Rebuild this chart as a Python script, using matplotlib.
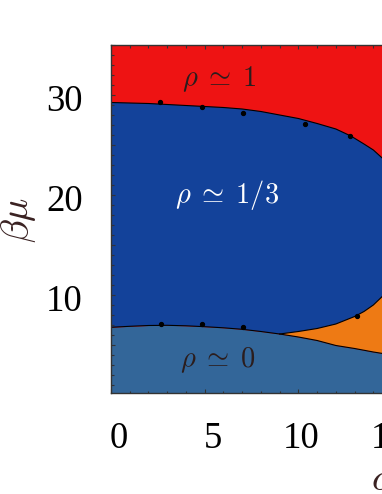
import numpy as np
import matplotlib
matplotlib.use("Agg")
import matplotlib.pyplot as plt
from matplotlib.ticker import MultipleLocator, FuncFormatter
from matplotlib.transforms import ScaledTranslation

plt.rcParams.update({
    'font.family': 'Liberation Serif',
    'mathtext.fontset': 'cm',
})

# boundary rho~1/3 (blue) / rho~1 (red)
upper_alpha = [0, 1, 2, 3, 4, 5, 6, 7, 8, 9, 10, 11, 12, 12.8, 13.5, 14.0, 14.5, 15.0, 15.5, 15.9, 16.1]
upper_mu = [29.25, 29.2, 29.15, 29.05, 28.95, 28.85, 28.75, 28.6, 28.35, 28.0, 27.65, 27.15, 26.6,
            25.9, 25.1, 24.5, 23.65, 22.5, 20.8, 18.5, 16.0]

# boundary with rho~0 (light blue), below blue and orange regions
low_alpha = [0, 1, 2, 3, 4, 5, 6, 7, 8, 9, 10, 11, 12, 13, 14, 14.5, 15.5, 16.5]
low_mu = [6.77, 6.87, 6.95, 6.97, 6.92, 6.83, 6.72, 6.57, 6.35, 6.1, 5.8, 5.45, 4.95, 4.65,
          4.3, 4.15, 3.9, 3.7]

# boundary blue / orange, starting at the triple point
mid_alpha = [9.0, 10.0, 11.0, 12.0, 13.0, 13.5, 14.0, 14.5, 15.0, 15.5, 15.9, 16.1]
mid_mu = [6.1, 6.35, 6.65, 7.1, 7.85, 8.35, 9.0, 9.9, 11.3, 13.2, 15.5, 16.0]

# simulation points
pts_upper_alpha = [2.62, 4.86, 7.03, 10.35, 12.75]
pts_upper_mu = [29.27, 28.8, 28.23, 27.1, 25.9]
pts_lower_alpha = [2.69, 4.86, 7.03, 13.14]
pts_lower_mu = [7.1, 7.07, 6.77, 7.93]

# region labels
region_text = [r'$\rho\;\simeq\;1$', r'$\rho\;\simeq\;1/3$', r'$\rho\;\simeq\;0$']
region_alpha = [5.79, 6.22, 5.68]
region_mu = [30.9, 19.2, 2.83]
region_color = ['#2b1d1d', 'white', '#2b1d1d']

# x tick label shifts (px) as they sit in the original
xlabel_shift = {0: 8, 5: 8.5, 10: 3, 15: -2.5, 20: -2.5}

RED = '#ee1313'
BLUE = '#13429a'
LIGHT = '#336699'
ORANGE = '#ee7a14'

fig = plt.figure(figsize=(3.82, 4.94), dpi=100)
ax = fig.add_axes([111 / 382, 101 / 494, 374.8 / 382, 348 / 494])
ax.set_facecolor(RED)

ua, um = np.array(upper_alpha), np.array(upper_mu)
la, lm = np.array(low_alpha), np.array(low_mu)
ma, mm = np.array(mid_alpha), np.array(mid_mu)
left = la <= ma[0]
right = la >= ma[0]

# blue region
bx = np.concatenate([ua, ma[::-1], la[left][::-1]])
by = np.concatenate([um, mm[::-1], lm[left][::-1]])
ax.fill(bx, by, color=BLUE, lw=0)

# orange region
ox = np.concatenate([ma, la[right][::-1]])
oy = np.concatenate([mm, lm[right][::-1]])
ax.fill(ox, oy, color=ORANGE, lw=0)

# rho ~ 0
ax.fill_between(la, 0, lm, color=LIGHT, lw=0)

for xs, ys in [(ua, um), (la, lm), (ma, mm)]:
    ax.plot(xs, ys, color='black', lw=0.8)

ax.plot(pts_upper_alpha, pts_upper_mu, 'o', color='black', ms=2.8)
ax.plot(pts_lower_alpha, pts_lower_mu, 'o', color='black', ms=2.8)

for s, x, y, c in zip(region_text, region_alpha, region_mu, region_color):
    ax.text(x, y, s, color=c, fontsize=20.5, ha='center', va='baseline')

ax.set_xlim(0, 20)
ax.set_ylim(0.2, 35)

ax.xaxis.set_major_locator(MultipleLocator(5))
ax.xaxis.set_minor_locator(MultipleLocator(1))
ax.yaxis.set_major_locator(MultipleLocator(5))
ax.yaxis.set_minor_locator(MultipleLocator(1))
ax.yaxis.set_major_formatter(FuncFormatter(lambda v, p: f'{v:.0f}' if v % 10 == 0 else ''))

ax.tick_params(which='both', direction='in', top=True, right=True,
               colors='#333333', labelcolor='black', width=0.8)
ax.tick_params(which='major', length=2.9, labelsize=26.5, pad=20.5)
ax.tick_params(which='minor', length=1.8)
for sp in ax.spines.values():
    sp.set_color('#333333')
    sp.set_linewidth(1.0)

ax.set_ylabel(r'$\beta\mu$', fontsize=28, color='#3a2222')
ax.yaxis.set_label_coords(-0.2455, 0.497)
ax.yaxis.label.set_va('center')
ax.set_xlabel(r'$\alpha$', fontsize=28, color='#3a2222')
ax.xaxis.set_label_coords(0.728, -0.25)
ax.xaxis.label.set_va('center')

fig.canvas.draw()
for tick in ax.xaxis.get_major_ticks():
    v = int(round(tick.get_loc()))
    shift = ScaledTranslation(xlabel_shift.get(v, 0) / 100, 0, fig.dpi_scale_trans)
    tick.label1.set_transform(tick.label1.get_transform() + shift)
dy = ScaledTranslation(0, -3 / 100, fig.dpi_scale_trans)
for lab in ax.get_yticklabels():
    lab.set_transform(lab.get_transform() + dy)

fig.savefig('out.png', dpi=100)
